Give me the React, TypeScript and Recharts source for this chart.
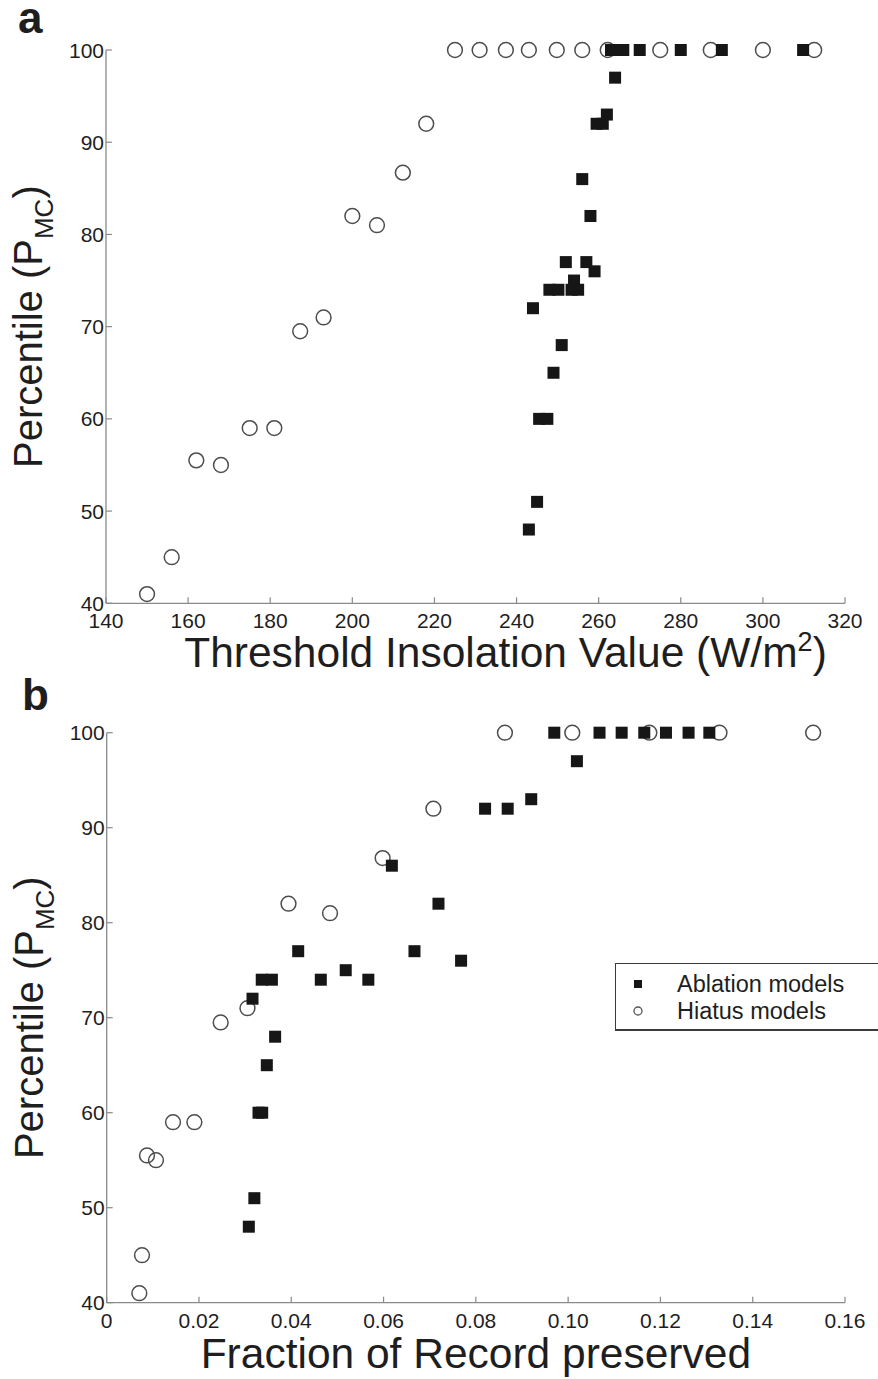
import React from 'react';
import { ScatterChart, Scatter, XAxis, YAxis, Legend, Label } from 'recharts';

const FONT = '"Liberation Sans", Arial, Helvetica, sans-serif';

// panel a: threshold insolation value (W/m2) vs percentile
const insolHiatusX = [150, 156, 162, 168, 175, 181, 187.3, 193, 200, 206, 212.3, 218, 225, 231, 237.4, 243, 249.8, 256, 262.2, 275, 287.3, 300, 312.5];
const insolHiatusY = [41, 45, 55.5, 55, 59, 59, 69.5, 71, 82, 81, 86.7, 92, 100, 100, 100, 100, 100, 100, 100, 100, 100, 100, 100];
const insolAblationX = [263, 264.5, 266, 270, 280, 290, 309.8, 264, 262, 259.5, 261, 256, 258, 252, 257, 259, 254, 248, 250.2, 253.4, 255, 244, 251, 249, 245.5, 247.5, 245, 243];
const insolAblationY = [100, 100, 100, 100, 100, 100, 100, 97, 93, 92, 92, 86, 82, 77, 77, 76, 75, 74, 74, 74, 74, 72, 68, 65, 60, 60, 51, 48];

// panel b: fraction of record preserved vs percentile
const fracHiatusX = [0.00707, 0.00765, 0.00873, 0.01068, 0.01437, 0.019, 0.0247, 0.0305, 0.0394, 0.0484, 0.0598, 0.0708, 0.0863, 0.1009, 0.1176, 0.1328, 0.1531];
const fracHiatusY = [41, 45, 55.5, 55, 59, 59, 69.5, 71, 82, 81, 86.8, 92, 100, 100, 100, 100, 100];
const fracAblationX = [0.0308, 0.032, 0.0329, 0.0337, 0.0347, 0.0365, 0.0316, 0.0336, 0.0358, 0.0464, 0.0567, 0.0518, 0.0768, 0.0415, 0.0667, 0.0719, 0.0618, 0.082, 0.0869, 0.092, 0.1019, 0.097, 0.1068, 0.1116, 0.1165, 0.1212, 0.1261, 0.1306];
const fracAblationY = [48, 51, 60, 60, 65, 68, 72, 74, 74, 74, 74, 75, 76, 77, 77, 82, 86, 92, 92, 93, 97, 100, 100, 100, 100, 100, 100, 100];

const insolTicks = [140, 160, 180, 200, 220, 240, 260, 280, 300, 320];
const fracTicks = [0, 0.02, 0.04, 0.06, 0.08, 0.1, 0.12, 0.14, 0.16];
const pctTicks = [40, 50, 60, 70, 80, 90, 100];
const seriesNames = ['Ablation models', 'Hiatus models'];

const zip = (xs: number[], ys: number[]) => xs.map((x, i) => ({ x, y: ys[i] }));

const AXIS = '#8a8a8a';
const INK = '#1e1e1e';

const Square = (p: any) => (
  <rect x={p.cx - 6} y={p.cy - 6} width={12} height={12} fill="#161616" />
);
const Ring = (p: any) => (
  <circle cx={p.cx} cy={p.cy} r={7.4} fill="none" stroke="#4d4d4d" strokeWidth={1.5} />
);

const makeXTick = (fmt: (v: number) => string) => (p: any) => (
  <g>
    <line x1={p.x} x2={p.x} y1={p.y} y2={p.y - 6} stroke={AXIS} strokeWidth={1.2} />
    <text x={p.x} y={p.y + 25} textAnchor="middle" fontSize={21} fill={INK} fontFamily={FONT}>
      {fmt(p.payload.value)}
    </text>
  </g>
);

const YTick = (p: any) => (
  <g>
    <line x1={p.x} x2={p.x + 6} y1={p.y} y2={p.y} stroke={AXIS} strokeWidth={1.2} />
    <text x={p.x - 2} y={p.y} dy="0.36em" textAnchor="end" fontSize={21} fill={INK} fontFamily={FONT}>
      {p.payload.value}
    </text>
  </g>
);

const LegendBox = () => (
  <div style={{ width: 263, height: 68, boxSizing: 'border-box', border: '1.5px solid #3a3a3a', borderBottomWidth: 2.5, borderRight: 'none', background: '#fff' }}>
    <svg width={262} height={66}>
      <rect x={18} y={16} width={8} height={8} fill="#161616" />
      <text x={61} y={28} fontSize={23.5} fill={INK} fontFamily={FONT}>{seriesNames[0]}</text>
      <circle cx={22} cy={47} r={4} fill="none" stroke="#555" strokeWidth={1.3} />
      <text x={61} y={55} fontSize={23.5} fill={INK} fontFamily={FONT}>{seriesNames[1]}</text>
    </svg>
  </div>
);

type PanelProps = {
  top: number;
  height: number;
  margin: { top: number; right: number; bottom: number; left: number };
  xDomain: [number, number];
  xTicks: number[];
  xFmt: (v: number) => string;
  hiatus: { x: number; y: number }[];
  ablation: { x: number; y: number }[];
  letter: string;
  letterX: number;
  letterY: number;
  xTitle: React.ReactNode;
  xTitleDx: number;
  xTitleDy: number;
  legendTop?: number;
};

const Panel = (props: PanelProps) => (
  <div style={{ position: 'absolute', left: 0, top: props.top }}>
    <ScatterChart width={878} height={props.height} margin={props.margin}>
      <XAxis
        type="number"
        dataKey="x"
        domain={props.xDomain}
        ticks={props.xTicks}
        interval={0}
        allowDataOverflow
        height={40}
        tickSize={0}
        tickMargin={0}
        tickLine={false}
        tick={makeXTick(props.xFmt)}
        axisLine={{ stroke: AXIS, strokeWidth: 1.3 }}
      >
        <Label
          content={(lp: any) => {
            const vb = lp.viewBox;
            return (
              <text x={vb.x + vb.width / 2 + props.xTitleDx} y={vb.y + props.xTitleDy} textAnchor="middle" fontSize={42.5} fill={INK} fontFamily={FONT}>
                {props.xTitle}
              </text>
            );
          }}
        />
      </XAxis>
      <YAxis
        type="number"
        dataKey="y"
        domain={[40, 100]}
        ticks={pctTicks}
        interval={0}
        width={60}
        tickSize={0}
        tickMargin={0}
        tickLine={false}
        tick={YTick}
        axisLine={{ stroke: AXIS, strokeWidth: 1.3 }}
      >
        <Label
          content={(lp: any) => {
            const vb = lp.viewBox;
            const cx = vb.x - 4;
            const cy = vb.y + vb.height / 2;
            return (
              <g>
                <text transform={`translate(${cx},${cy}) rotate(-90)`} textAnchor="middle" fontSize={40} fill={INK} fontFamily={FONT}>
                  Percentile (P
                  <tspan fontSize={26} dy={11}>MC</tspan>
                  <tspan dy={-11}>)</tspan>
                </text>
                <text x={props.letterX} y={props.letterY} fontSize={44} fontWeight="bold" fill={INK} fontFamily={FONT}>
                  {props.letter}
                </text>
              </g>
            );
          }}
        />
      </YAxis>
      <Scatter name={seriesNames[1]} data={props.hiatus} shape={Ring} isAnimationActive={false} />
      <Scatter name={seriesNames[0]} data={props.ablation} shape={Square} isAnimationActive={false} />
      {props.legendTop !== undefined && (
        <Legend
          layout="vertical"
          align="center"
          verticalAlign="middle"
          wrapperStyle={{ left: 615, top: props.legendTop, width: 263, height: 68 }}
          content={() => <LegendBox />}
        />
      )}
    </ScatterChart>
  </div>
);

export default function App() {
  return (
    <div style={{ position: 'absolute', left: 0, top: 0, width: 878, height: 1379, background: '#fff' }}>
      <Panel
        top={0}
        height={690}
        margin={{ top: 50, right: 33, bottom: 46.7, left: 46 }}
        xDomain={[140, 320]}
        xTicks={insolTicks}
        xFmt={(v) => String(v)}
        hiatus={zip(insolHiatusX, insolHiatusY)}
        ablation={zip(insolAblationX, insolAblationY)}
        letter="a"
        letterX={18}
        letterY={33}
        xTitle={
          <>
            Threshold Insolation Value (W/m
            <tspan fontSize={27} dy={-16}>2</tspan>
            <tspan dy={16}>)</tspan>
          </>
        }
        xTitleDx={30}
        xTitleDy={63.7}
      />
      <Panel
        top={640}
        height={739}
        margin={{ top: 92.7, right: 33, bottom: 36.3, left: 46.7 }}
        xDomain={[0, 0.16]}
        xTicks={fracTicks}
        xFmt={(v) => (v === 0 ? '0' : v.toFixed(2))}
        hiatus={zip(fracHiatusX, fracHiatusY)}
        ablation={zip(fracAblationX, fracAblationY)}
        letter="b"
        letterX={22}
        letterY={70}
        xTitle="Fraction of Record preserved"
        xTitleDx={0}
        xTitleDy={65.3}
        legendTop={323}
      />
    </div>
  );
}
